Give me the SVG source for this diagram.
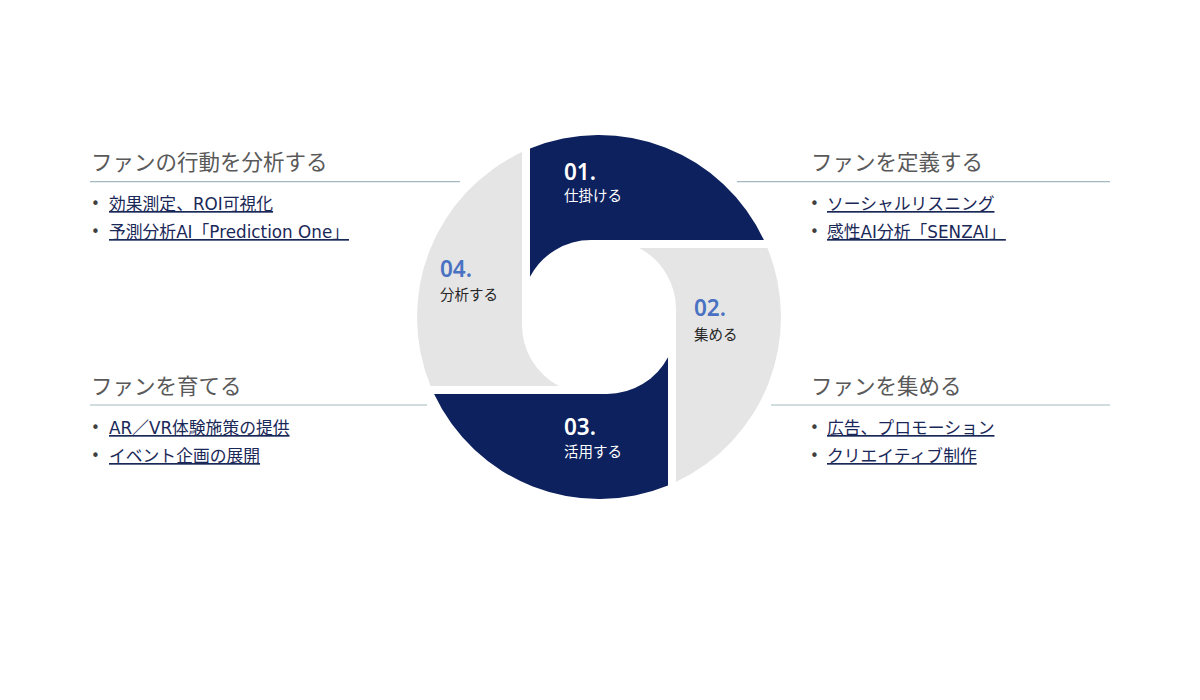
<svg xmlns="http://www.w3.org/2000/svg" width="1200" height="700" viewBox="0 0 1200 700">
<style>
.dark{fill:#0c215e}
.light{fill:#e6e5e6}
.head{font-family:"Noto Sans CJK JP","Noto Sans",sans-serif;font-size:21.5px;fill:#595959}
.item{font-family:"DejaVu Sans","Noto Sans CJK JP",sans-serif;font-size:16.8px;fill:#1a2858;text-decoration:underline}
.bul{font-family:"DejaVu Sans",sans-serif;font-size:15px;fill:#404040}
.rule{stroke:#a3b9bf;stroke-width:1.2;fill:none}
.num{font-family:"Noto Sans","Noto Sans CJK JP",sans-serif;font-size:22.5px;font-weight:600}
.lbl{font-family:"Noto Sans CJK JP",sans-serif;font-size:14.5px}
</style>
<rect width="1200" height="700" fill="#ffffff"/>
<g id="ring">
<g id="seg01">
<path class="dark" d="M530,148.6 A182,182 0 0,1 763.9,240 L591,240 A69,69 0 0,0 530,276.8 Z"/>
<text class="num" x="564" y="180" fill="#ffffff">01.</text>
<text class="lbl" x="564" y="201" fill="#ffffff">仕掛ける</text>
</g>
<g id="seg02">
<path class="light" d="M767.4,248 A182,182 0 0,1 676,481.9 L676,309 A69,69 0 0,0 639.2,248 Z"/>
<text class="num" x="694" y="316" fill="#4a72c2">02.</text>
<text class="lbl" x="694" y="340" fill="#262626">集める</text>
</g>
<g id="seg03">
<path class="dark" d="M668,485.4 A182,182 0 0,1 434.1,394 L607,394 A69,69 0 0,0 668,357.2 Z"/>
<text class="num" x="564" y="435" fill="#ffffff">03.</text>
<text class="lbl" x="564" y="457" fill="#ffffff">活用する</text>
</g>
<g id="seg04">
<path class="light" d="M430.6,386 A182,182 0 0,1 522,152.1 L522,325 A69,69 0 0,0 558.8,386 Z"/>
<text class="num" x="440" y="277" fill="#4a72c2">04.</text>
<text class="lbl" x="440" y="300" fill="#262626">分析する</text>
</g>
</g>
<g id="connectors">
<line class="rule" x1="90" y1="181.7" x2="460" y2="181.7"/>
<line class="rule" x1="737" y1="181.7" x2="1110" y2="181.7"/>
<line class="rule" x1="90" y1="405" x2="427" y2="405"/>
<line class="rule" x1="771" y1="405" x2="1110" y2="405"/>
</g>
<g id="analyze">
<text class="head" x="91" y="170">ファンの行動を分析する</text>
<text class="bul" x="91" y="209">•</text>
<text class="item" x="109" y="210">効果測定、ROI可視化</text>
<text class="bul" x="91" y="237">•</text>
<text class="item" x="109" y="238">予測分析AI「Prediction One」</text>
</g>
<g id="define">
<text class="head" x="811" y="170">ファンを定義する</text>
<text class="bul" x="810" y="209">•</text>
<text class="item" x="827" y="210">ソーシャルリスニング</text>
<text class="bul" x="810" y="237">•</text>
<text class="item" x="827" y="238">感性AI分析「SENZAI」</text>
</g>
<g id="nurture">
<text class="head" x="91" y="394">ファンを育てる</text>
<text class="bul" x="91" y="433">•</text>
<text class="item" x="109" y="434">AR／VR体験施策の提供</text>
<text class="bul" x="91" y="461">•</text>
<text class="item" x="109" y="462">イベント企画の展開</text>
</g>
<g id="collect">
<text class="head" x="811" y="394">ファンを集める</text>
<text class="bul" x="810" y="433">•</text>
<text class="item" x="827" y="434">広告、プロモーション</text>
<text class="bul" x="810" y="461">•</text>
<text class="item" x="827" y="462">クリエイティブ制作</text>
</g>
</svg>
